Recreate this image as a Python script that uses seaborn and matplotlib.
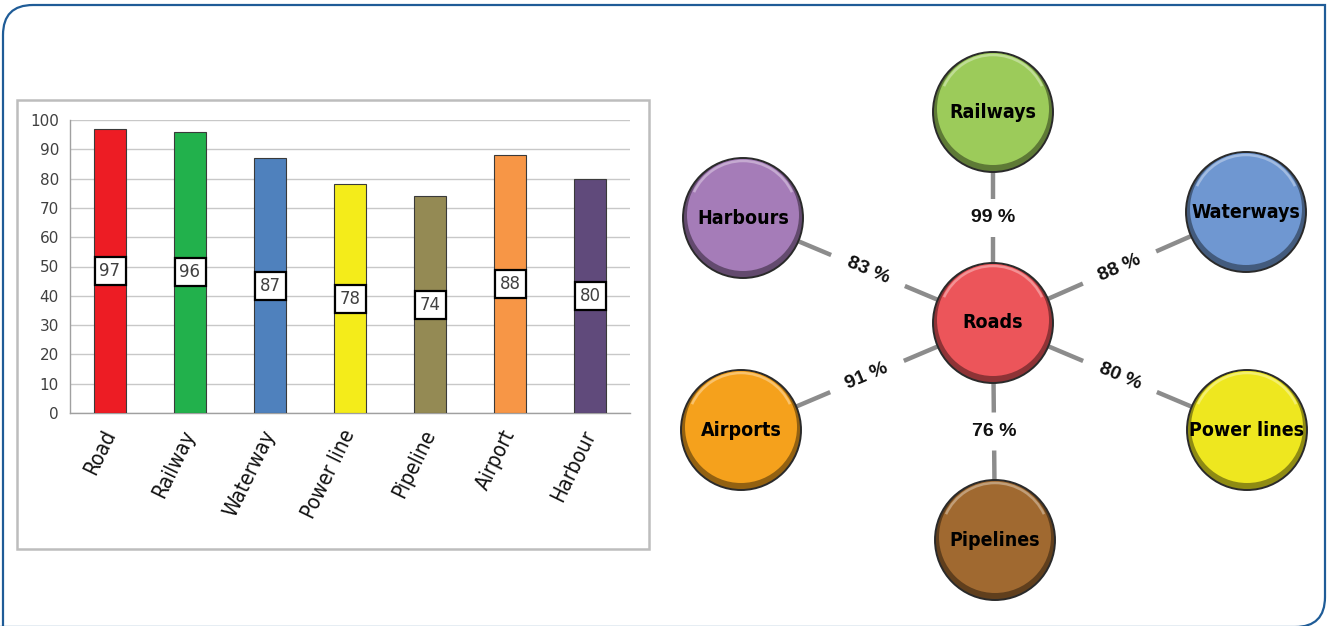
import numpy as np
import pandas as pd
import matplotlib
matplotlib.use('Agg')
import matplotlib.pyplot as plt
import matplotlib.patches as mpatches
from matplotlib.path import Path
from matplotlib.colors import to_rgb
import seaborn as sns

# bar chart data
categories = ["Road", "Railway", "Waterway", "Power line", "Pipeline", "Airport", "Harbour"]
values = [97, 96, 87, 78, 74, 88, 80]
bar_colors = ["#ED1C24", "#22B14C", "#4F81BD", "#F4EC1A", "#948A54", "#F79646", "#604A7B"]

# network diagram data
hub_name = "Roads"
hub_color = "#EC555A"
node_names = ["Railways", "Waterways", "Power lines", "Pipelines", "Airports", "Harbours"]
node_pct = [99, 88, 80, 76, 91, 83]
node_colors = ["#9CCB5A", "#6F97D1", "#EEE71F", "#A06930", "#F5A11C", "#A57CB8"]

sns.set_theme(style="white")
cond = dict(family="DejaVu Sans", stretch="condensed")

W, H = 1327, 626
fig = plt.figure(figsize=(W / 100, H / 100), dpi=100)

# background canvas in pixel coords
cv = fig.add_axes([0, 0, 1, 1], zorder=0)
cv.set_xlim(0, W)
cv.set_ylim(H, 0)
cv.axis("off")

# outer blue border, rounded top-left and bottom-right
r = 30
verts = [(3, 640), (3, 5 + r), (3, 5), (3 + r, 5), (1325, 5), (1325, 627 - r),
         (1325, 627), (1325 - r, 627), (0, 627)]
codes = [Path.MOVETO, Path.LINETO, Path.CURVE3, Path.CURVE3, Path.LINETO, Path.LINETO,
         Path.CURVE3, Path.CURVE3, Path.LINETO]
cv.add_patch(mpatches.PathPatch(Path(verts, codes), fill=False, ec="#1F5C97", lw=1.6))

# chart frame
cv.add_patch(mpatches.Rectangle((17, 100), 632, 449, fill=False, ec="#BDBDBD", lw=1.8))

# ---- bar chart ----
ax = fig.add_axes([70 / W, (H - 413) / H, 560 / W, 293 / H], zorder=2)
df = pd.DataFrame({"category": categories, "value": values})
sns.barplot(data=df, x="category", y="value", hue="category", palette=bar_colors,
            saturation=1, width=0.4, edgecolor="#3a3a3a", linewidth=0.8, legend=False,
            ax=ax, zorder=3)
ax.set_xlim(-0.5, len(categories) - 0.5)
ax.set_ylim(0, 100)
ax.set_yticks(np.arange(0, 101, 10))
ax.yaxis.grid(True, color="#C8C8C8", lw=1)
ax.set_axisbelow(True)
ax.set_xlabel("")
ax.set_ylabel("")
for s in ["top", "right"]:
    ax.spines[s].set_visible(False)
for s in ["left", "bottom"]:
    ax.spines[s].set_color("#A0A0A0")
    ax.spines[s].set_linewidth(1)
ax.set_xticks(np.arange(-0.5, len(categories)), minor=True)
ax.tick_params(axis="x", which="major", length=0, pad=13)
ax.tick_params(axis="x", which="minor", length=5, color="#A0A0A0", direction="out")
ax.tick_params(axis="y", length=5, color="#A0A0A0", direction="out", labelsize=11,
               labelcolor="#404040", pad=3)
ax.set_xticks(range(len(categories)))
ax.set_xticklabels(categories, rotation=64, ha="right", va="center",
                   rotation_mode="anchor", fontsize=15, color="#111111", **cond)
for i, v in enumerate(values):
    ax.text(i, v / 2, str(v), ha="center", va="center", fontsize=12, color="#404040",
            zorder=5, bbox=dict(boxstyle="square,pad=0.3", fc="white", ec="black", lw=1.6))

# ---- network diagram ----
dg = fig.add_axes([0, 0, 1, 1], zorder=3)
dg.set_xlim(0, W)
dg.set_ylim(H, 0)
dg.axis("off")
dg.patch.set_alpha(0)

hub_xy = (993, 323)
node_xy = [(993, 112), (1246, 212), (1247, 430), (995, 540), (741, 430), (743, 218)]
R = 60


def shade(c, f):
    rgb = np.array(to_rgb(c))
    return tuple(np.clip(rgb * f, 0, 1))


def light(c, f):
    rgb = np.array(to_rgb(c))
    return tuple(rgb + (1 - rgb) * f)


def bubble(xy, color, label):
    x, y = xy
    dg.add_patch(mpatches.Circle((x, y), R, fc=shade(color, 0.6), ec="#2a2a2a", lw=1.4, zorder=4))
    dg.add_patch(mpatches.Circle((x, y - 3), R - 4, fc=color, ec="none", zorder=5))
    dg.add_patch(mpatches.Arc((x, y - 3), 2 * (R - 6), 2 * (R - 6), theta1=205, theta2=335,
                              ec=light(color, 0.35), lw=1.8, zorder=6))
    dg.text(x, y, label, ha="center", va="center", fontsize=14, fontweight="bold",
            color="black", zorder=7, **cond)


for (nx, ny), pct in zip(node_xy, node_pct):
    hx, hy = hub_xy
    dx, dy = hx - nx, hy - ny
    L = np.hypot(dx, dy)
    ux, uy = dx / L, dy / L
    mx, my = (nx + hx) / 2, (ny + hy) / 2
    if abs(dx) < 5:
        rot, gap = 0, 19
    else:
        rot = -np.degrees(np.arctan2(dy, dx))
        if rot > 90:
            rot -= 180
        elif rot < -90:
            rot += 180
        gap = 40
    dg.plot([nx + ux * R, mx - ux * gap], [ny + uy * R, my - uy * gap],
            color="#8C8C8C", lw=3.2, solid_capstyle="butt", zorder=3)
    dg.plot([mx + ux * gap, hx - ux * R], [my + uy * gap, hy - uy * R],
            color="#8C8C8C", lw=3.2, solid_capstyle="butt", zorder=3)
    dg.text(mx, my, f"{pct} %", ha="center", va="center", rotation=rot,
            rotation_mode="anchor", fontsize=14, fontweight="bold",
            family=["Liberation Sans", "DejaVu Sans"], color="#111111", zorder=7)

for xy, c, n in zip(node_xy, node_colors, node_names):
    bubble(xy, c, n)
bubble(hub_xy, hub_color, hub_name)

fig.savefig("out.png", dpi=100, facecolor="white")
